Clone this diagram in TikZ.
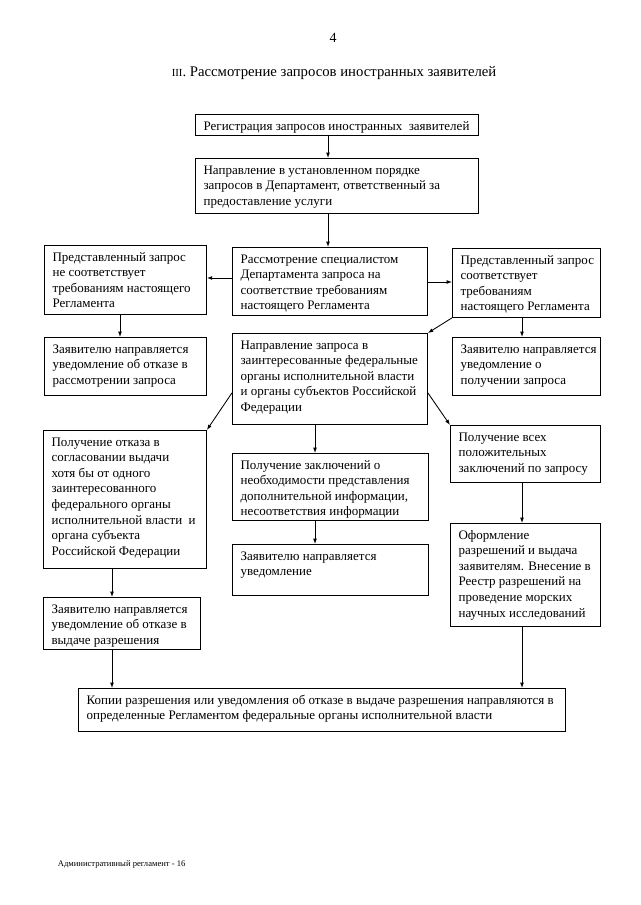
\documentclass[tikz,border=0pt]{standalone}
\usepackage{fontspec}
\setmainfont{Liberation Serif}
\usetikzlibrary{arrows.meta,calc}
\newcommand\flowbox[6]{%
  \pgfmathsetlengthmacro\fbw{(#4-#2)*0.9302pt}%
  \pgfmathsetlengthmacro\fbh{(#5-#3)*0.9302pt}%
  \node[boxst, anchor=north west, minimum width=\fbw, minimum height=\fbh] (#1) at (#2,#3)
    {\parbox[c][\fbh][t]{\fbw}{\leftskip=7.6pt\rightskip=0pt plus 1fil\parfillskip=0pt plus 1fil\vspace*{4.4pt}\strut#6\strut}};%
}
\begin{document}
\begin{tikzpicture}[x=0.9302pt,y=-0.9302pt,
  boxst/.style={draw, line width=0.8pt, inner sep=0pt, font=\fontsize{12.1}{14.5}\selectfont},
  arr/.style={-{Latex[length=5pt,width=3.6pt]}, line width=0.8pt}]
\useasboundingbox[fill=white] (0,0) rectangle (640,905);

\node[font=\fontsize{13}{15}\selectfont] (pg) at (333,38) {4};
\node[anchor=base west, font=\fontsize{13.7}{16}\selectfont] (title) at (168,77)
  {{\fontsize{10}{10}\selectfont III}. Рассмотрение запросов иностранных заявителей};

\flowbox{b1}{195}{114}{478}{135}{Регистрация запросов иностранных\ \ заявителей}
\flowbox{b2}{195}{158}{478}{213}{Направление в установленном порядке\\ запросов в Департамент, ответственный за\\ предоставление услуги}
\flowbox{b3}{232}{247}{427}{315}{Рассмотрение специалистом\\ Департамента запроса на\\ соответствие требованиям\\ настоящего Регламента}
\flowbox{L1}{44}{245}{206}{314}{Представленный запрос\\ не соответствует\\ требованиям настоящего\\ Регламента}
\flowbox{R1}{452}{248}{600}{317}{Представленный запрос\\ соответствует\\ требованиям\\ настоящего Регламента}
\flowbox{L2}{44}{337}{206}{395}{Заявителю направляется\\ уведомление об отказе в\\ рассмотрении запроса}
\flowbox{R2}{452}{337}{600}{395}{Заявителю направляется\\ уведомление о\\ получении запроса}
\flowbox{C2}{232}{333}{427}{424}{Направление запроса в\\ заинтересованные федеральные\\ органы исполнительной власти\\ и органы субъектов Российской\\ Федерации}
\flowbox{L3}{43}{430}{206}{568}{Получение отказа в\\ согласовании выдачи\\ хотя бы от одного\\ заинтересованного\\ федерального органы\\ исполнительной власти\ \ и\\ органа субъекта\\ Российской Федерации}
\flowbox{C3}{232}{453}{428}{520}{Получение заключений о\\ необходимости представления\\ дополнительной информации,\\ несоответствия информации}
\flowbox{R3}{450}{425}{600}{482}{Получение всех\\ положительных\\ заключений по запросу}
\flowbox{C4}{232}{544}{428}{595}{Заявителю направляется\\ уведомление}
\flowbox{R4}{450}{523}{600}{626}{Оформление\\ разрешений и выдача\\ заявителям. Внесение в\\ Реестр разрешений на\\ проведение морских\\ научных исследований}
\flowbox{L4}{43}{597}{200}{649}{Заявителю направляется\\ уведомление об отказе в\\ выдаче разрешения}
\flowbox{B}{78}{688}{565}{731}{Копии разрешения или уведомления об отказе в выдаче разрешения направляются в\\ определенные Регламентом федеральные органы исполнительной власти}

\node[anchor=base west, font=\fontsize{8}{9}\selectfont] (foot) at (54,866) {Административный регламент - 16};

\coordinate (x328) at (328,0);
\coordinate (x315) at (315,0);
\coordinate (x120) at (120,0);
\coordinate (x522) at (522,0);
\coordinate (x112) at (112,0);
\coordinate (y278) at (0,278);
\coordinate (y282) at (0,282);

\draw[arr] (b1.south -| x328) -- (b2.north -| x328);
\draw[arr] (b2.south -| x328) -- (b3.north -| x328);
\draw[arr] (b3.west |- y278) -- (L1.east |- y278);
\draw[arr] (b3.east |- y282) -- (R1.west |- y282);
\draw[arr] (L1.south -| x120) -- (L2.north -| x120);
\draw[arr] (R1.south -| x522) -- (R2.north -| x522);
\draw[arr] (R1.south west) -- (C2.north east);
\draw[arr] ($(C2.south west)+(0,-32)$) -- (L3.north east);
\draw[arr] ($(C2.south east)+(0,-32)$) -- (R3.north west);
\draw[arr] (C2.south -| x315) -- (C3.north -| x315);
\draw[arr] (C3.south -| x315) -- (C4.north -| x315);
\draw[arr] (R3.south -| x522) -- (R4.north -| x522);
\draw[arr] (L3.south -| x112) -- (L4.north -| x112);
\draw[arr] (L4.south -| x112) -- (B.north -| x112);
\draw[arr] (R4.south -| x522) -- (B.north -| x522);
\end{tikzpicture}
\end{document}
